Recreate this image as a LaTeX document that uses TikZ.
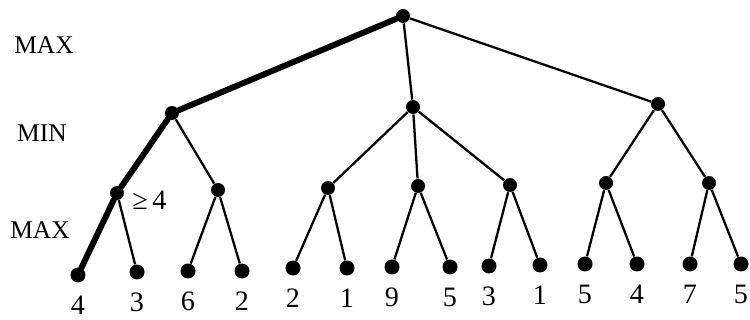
\documentclass[tikz,border=0pt]{standalone}
\usepackage{fontspec}
\setmainfont{Liberation Serif}
\usetikzlibrary{positioning}

\begin{document}
\begin{tikzpicture}[x=0.02cm,y=-0.02cm,
  dot/.style={shape=circle,fill=black,inner sep=0pt,minimum size=0.28cm},
  leaf/.style={dot,minimum size=0.3cm},
  val/.style={font=\fontsize{16}{18}\selectfont,inner sep=0pt},
  lvl/.style={font=\fontsize{14.5}{17}\selectfont,inner sep=0pt},
  edge/.style={line width=1.3pt},
  best/.style={line width=3.4pt,line cap=round,line join=round}]
  \useasboundingbox (0,0) rectangle (750,320);

  % levels
  \node[lvl] (lmax) at (44,45) {MAX};
  \node[lvl] (lmin) at (42,133) {MIN};
  \node[lvl] (lmax2) at (40,230) {MAX};

  % root and MIN nodes
  \node[dot] (r) at (403,16) {};
  \node[dot] (m1) at (172,113) {};
  \node[dot] (m2) at (413,107) {};
  \node[dot] (m3) at (658,104) {};

  % MAX nodes
  \node[dot] (a1) at (117,193) {};
  \node[dot] (a2) at (218,190) {};
  \node[dot] (b1) at (328,188) {};
  \node[dot] (b2) at (418,186) {};
  \node[dot] (b3) at (510,185) {};
  \node[dot] (c1) at (606,183) {};
  \node[dot] (c2) at (709,183) {};
  \node[val,anchor=west] (bound) at (132,200) {≥\,4};

  % leaves
  \node[leaf] (l1) at (78,275) {};
  \node[leaf] (l2) at (137,272) {};
  \node[leaf] (l3) at (188,271) {};
  \node[leaf] (l4) at (242,271) {};
  \node[leaf] (l5) at (293,268) {};
  \node[leaf] (l6) at (347,268) {};
  \node[leaf] (l7) at (392,267) {};
  \node[leaf] (l8) at (450,267) {};
  \node[leaf] (l9) at (489,266) {};
  \node[leaf] (l10) at (540,265) {};
  \node[leaf] (l11) at (585,264) {};
  \node[leaf] (l12) at (637,264) {};
  \node[leaf] (l13) at (690,264) {};
  \node[leaf] (l14) at (741,264) {};

  % leaf values
  \node[val] (v1) at ([yshift=-0.6cm]l1) {4};
  \node[val] (v2) at ([yshift=-0.6cm]l2) {3};
  \node[val] (v3) at ([yshift=-0.6cm]l3) {6};
  \node[val] (v4) at ([yshift=-0.6cm]l4) {2};
  \node[val] (v5) at ([yshift=-0.6cm]l5) {2};
  \node[val] (v6) at ([yshift=-0.6cm]l6) {1};
  \node[val] (v7) at ([yshift=-0.6cm]l7) {9};
  \node[val] (v8) at ([yshift=-0.6cm]l8) {5};
  \node[val] (v9) at ([yshift=-0.6cm]l9) {3};
  \node[val] (v10) at ([yshift=-0.6cm]l10) {1};
  \node[val] (v11) at ([yshift=-0.6cm]l11) {5};
  \node[val] (v12) at ([yshift=-0.6cm]l12) {4};
  \node[val] (v13) at ([yshift=-0.6cm]l13) {7};
  \node[val] (v14) at ([yshift=-0.6cm]l14) {5};

  % principal line
  \draw[best] (r) -- (m1) -- (a1) -- (l1);

  \draw[edge] (r) to (m2);
  \draw[edge] (r) to (m3);
  \draw[edge] (m1) to (a2);
  \draw[edge] (m2) to (b1);
  \draw[edge] (m2) to (b2);
  \draw[edge] (m2) to (b3);
  \draw[edge] (m3) to (c1);
  \draw[edge] (m3) to (c2);

  \draw[edge] (a1) to (l2);
  \draw[edge] (a2) to (l3);
  \draw[edge] (a2) to (l4);
  \draw[edge] (b1) to (l5);
  \draw[edge] (b1) to (l6);
  \draw[edge] (b2) to (l7);
  \draw[edge] (b2) to (l8);
  \draw[edge] (b3) to (l9);
  \draw[edge] (b3) to (l10);
  \draw[edge] (c1) to (l11);
  \draw[edge] (c1) to (l12);
  \draw[edge] (c2) to (l13);
  \draw[edge] (c2) to (l14);
\end{tikzpicture}
\end{document}
